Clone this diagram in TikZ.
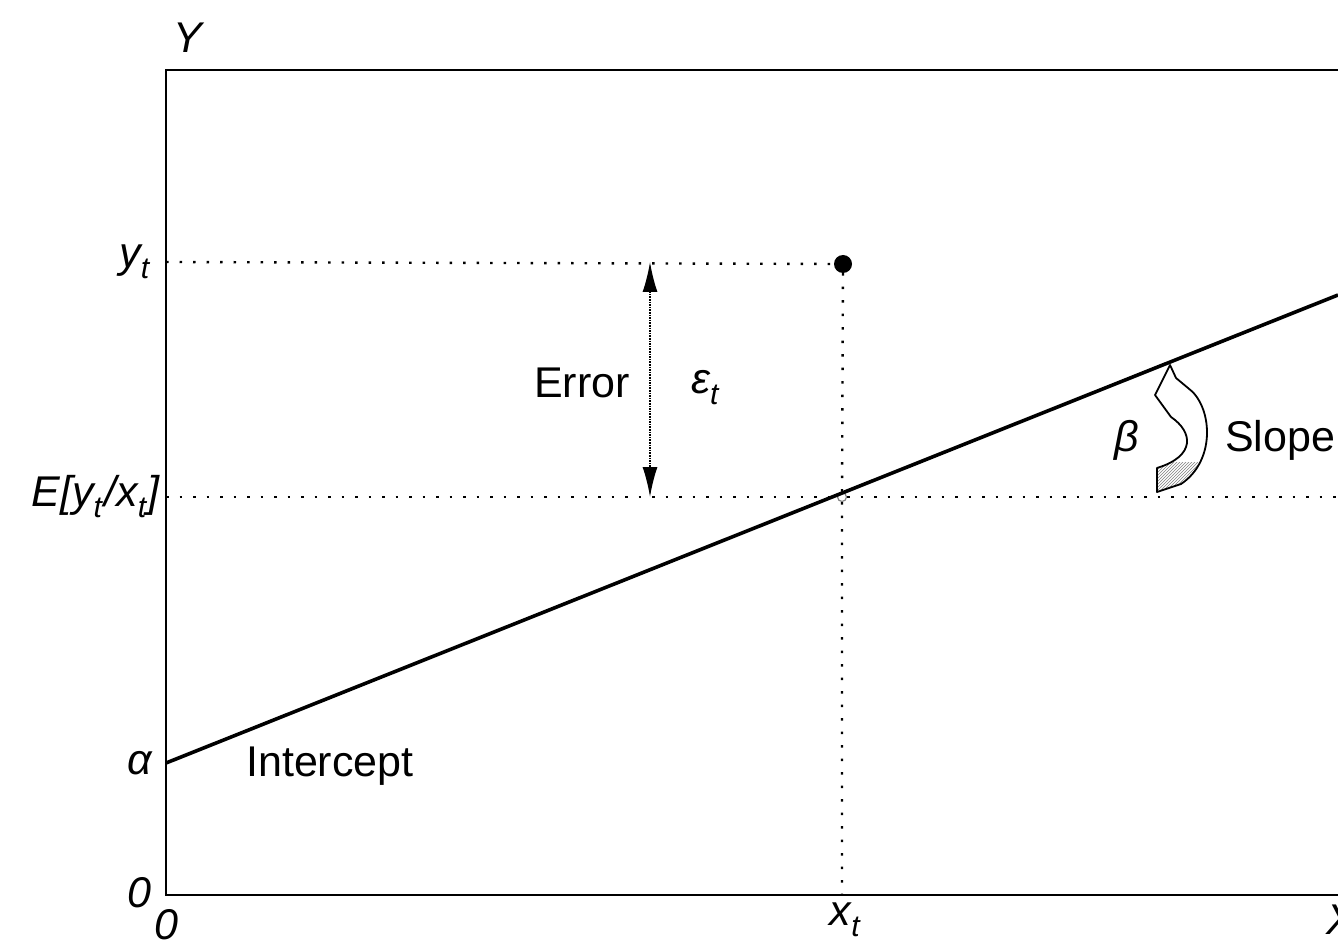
\documentclass[tikz,border=0pt]{standalone}
\usepackage{fontspec}
\setmainfont{Liberation Sans}
\usetikzlibrary{arrows.meta,patterns,calc}

\begin{document}
\begin{tikzpicture}[
    x=1pt, y=-1pt,
    every node/.style={font=\fontsize{43}{48}\selectfont, inner sep=0pt},
    lbl/.style={font=\fontsize{43}{48}\selectfont\itshape},
    axis/.style={line width=2.6pt},
    guide/.style={line width=2.4pt, dash pattern=on 2.5pt off 11pt},
    fitline/.style={line width=3.6pt},
    errarrow/.style={<->, >={Latex[length=30pt,width=15pt]}, line width=1.6pt, densely dotted}
]
\clip (0,0) rectangle (1338,949);

% Axes (right side of the frame is cut off)
\coordinate (O) at (166,895);
\coordinate (top) at (166,70);
\draw[axis] (1400,70) -- (top) -- (O) -- (1400,895);

\node[lbl] (ylab) at (188,38) {Y};
\node[lbl, anchor=east] (origY) at (152,893) {0};
\node[lbl, anchor=north] (origX) at (166,909) {0};
\node[lbl, anchor=north west] (xlab) at (1326,905) {X};

% Observation and its conditional mean
\coordinate (yt) at (166,262);
\coordinate (Ey) at (166,497);
\coordinate (xt) at (842,895);
\node[circle, fill, minimum size=18pt] (obs) at (843,264) {};
\node[circle, draw=gray, line width=1.2pt, minimum size=9pt] (mean) at (842,497) {};

\draw[guide] (yt) -- (obs);
\draw[guide] (Ey) -- (mean) -- (1338,497);
\draw[guide] (obs) -- (mean) -- (xt);

\node[lbl, anchor=east] (ytlab) at (150,262) {y\textsubscript{t}};
\node[lbl, anchor=east] (Eylab) at (160,497) {E[y\textsubscript{t}\kern2pt/x\textsubscript{t}\kern1pt]};
\node[lbl, anchor=north] (xtlab) at (845,903) {x\textsubscript{t}};

% Regression line
\coordinate (alpha) at (166,763);
\coordinate (lineEnd) at (1338,295);
\draw[fitline] (alpha) -- (lineEnd);
\node[lbl, anchor=east] (alphalab) at (152,763) {α};
\node[anchor=west] (icept) at (246,766) {Intercept};

% Error
\coordinate (errTop) at (650,262);
\coordinate (errBot) at (650,497);
\draw[errarrow] (errTop) -- (errBot);
\node (error) at (582,383) {Error};
\node[lbl] (eps) at (705,388) {ε\textsubscript{t}};

% Slope
\node[lbl] (beta) at (1127,440) {β};
\node[anchor=west] (slope) at (1225,440) {Slope};
\coordinate (slopeTip) at (1170,365);
\begin{scope}
  \clip (slopeTip) -- (1155,395) -- (1171,417) .. controls (1193,432) and (1196,456) .. (1157,468)
    -- (1157,492) -- (1181,484) .. controls (1217,460) and (1212,405) .. (1188,388) -- (1176,378) -- cycle;
  \fill[pattern=north east lines, pattern color=gray] (1150,462) rectangle (1220,500);
\end{scope}
\draw[line width=1.8pt, line join=round] (slopeTip) -- (1155,395) -- (1171,417)
  .. controls (1193,432) and (1196,456) .. (1157,468) -- (1157,492) -- (1181,484)
  .. controls (1217,460) and (1212,405) .. (1188,388) -- (1176,378) -- cycle;

\end{tikzpicture}
\end{document}
